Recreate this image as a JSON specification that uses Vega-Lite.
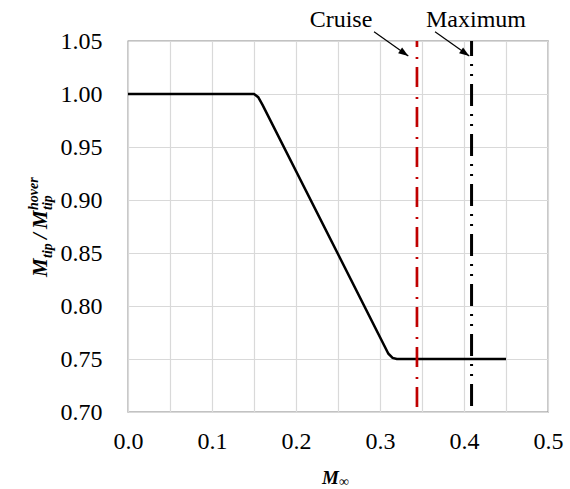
{
  "$schema": "https://vega.github.io/schema/vega-lite/v6.json",
  "width": 420,
  "height": 371,
  "autosize": {"type": "none"},
  "padding": {"left": 128, "top": 41, "right": 22, "bottom": 77},
  "background": "white",
  "config": {
    "font": "Liberation Serif",
    "view": {"stroke": "#868686", "strokeWidth": 1.3},
    "axis": {
      "domain": false,
      "ticks": false,
      "grid": true,
      "gridColor": "#d9d9d9",
      "gridWidth": 1.2,
      "labelFont": "Liberation Serif",
      "labelFontSize": 24,
      "labelColor": "black",
      "title": null
    },
    "text": {"font": "Liberation Serif"}
  },
  "datasets": {
    "curve": [
      {"M": 0.0, "ratio": 1.0},
      {"M": 0.15, "ratio": 1.0},
      {"M": 0.155, "ratio": 0.997},
      {"M": 0.16, "ratio": 0.99},
      {"M": 0.31, "ratio": 0.755},
      {"M": 0.315, "ratio": 0.751},
      {"M": 0.32, "ratio": 0.75},
      {"M": 0.45, "ratio": 0.75}
    ],
    "conditions": [
      {"name": "Cruise", "M": 0.344, "ratio": 0.7},
      {"name": "Cruise", "M": 0.344, "ratio": 1.05},
      {"name": "Maximum", "M": 0.409, "ratio": 0.7},
      {"name": "Maximum", "M": 0.409, "ratio": 1.05}
    ],
    "callouts": [
      {"name": "Cruise", "labelM": 0.2536, "labelR": 1.0632, "M": 0.2929, "ratio": 1.0588, "M2": 0.3337, "ratio2": 1.0358},
      {"name": "Maximum", "labelM": 0.4143, "labelR": 1.0632, "M": 0.3655, "ratio": 1.0588, "M2": 0.4063, "ratio2": 1.0358}
    ],
    "yTitle": [
      {"text": "M", "role": "main", "M": -0.0964, "ratio": 0.8274},
      {"text": "tip", "role": "sub", "M": -0.0905, "ratio": 0.8453},
      {"text": "/", "role": "main", "M": -0.0964, "ratio": 0.8632},
      {"text": "M", "role": "main", "M": -0.0964, "ratio": 0.8726},
      {"text": "tip", "role": "sub", "M": -0.0905, "ratio": 0.8906},
      {"text": "hover", "role": "sup", "M": -0.1071, "ratio": 0.8906}
    ],
    "xTitle": [
      {"text": "M", "role": "main", "M": 0.231, "ratio": 0.6321},
      {"text": "∞", "role": "sub", "M": 0.2512, "ratio": 0.6302}
    ]
  },
  "encoding": {
    "x": {
      "field": "M",
      "type": "quantitative",
      "scale": {"domain": [0, 0.5], "nice": false, "zero": false},
      "axis": {
        "values": [0, 0.05, 0.1, 0.15, 0.2, 0.25, 0.3, 0.35, 0.4, 0.45, 0.5],
        "labelExpr": "round(datum.value * 100) % 10 == 0 ? format(datum.value, '.1f') : ''",
        "labelPadding": 17,
        "labelFlush": false
      }
    },
    "y": {
      "field": "ratio",
      "type": "quantitative",
      "scale": {"domain": [0.7, 1.05], "nice": false, "zero": false},
      "axis": {
        "values": [0.7, 0.75, 0.8, 0.85, 0.9, 0.95, 1.0, 1.05],
        "format": ".2f",
        "labelPadding": 26,
        "labelFlush": false
      }
    }
  },
  "layer": [
    {
      "data": {"name": "curve"},
      "mark": {"type": "line", "color": "black", "strokeWidth": 2.5, "clip": true}
    },
    {
      "data": {"name": "conditions"},
      "transform": [{"filter": "datum.name == 'Cruise'"}],
      "mark": {"type": "line", "color": "#C00000", "strokeWidth": 2.7, "strokeDash": [20, 8, 2, 10], "strokeDashOffset": 35, "strokeCap": "butt"},
      "encoding": {"order": {"field": "ratio", "type": "quantitative"}}
    },
    {
      "data": {"name": "conditions"},
      "transform": [{"filter": "datum.name == 'Maximum'"}],
      "mark": {"type": "line", "color": "black", "strokeWidth": 3, "strokeDash": [22, 8, 2, 8, 2, 8], "strokeDashOffset": 44, "strokeCap": "butt"},
      "encoding": {"order": {"field": "ratio", "type": "quantitative"}}
    },
    {
      "data": {"name": "callouts"},
      "mark": {"type": "rule", "color": "black", "strokeWidth": 1.2},
      "encoding": {
        "x2": {"field": "M2"},
        "y2": {"field": "ratio2"}
      }
    },
    {
      "data": {"name": "callouts"},
      "mark": {"type": "point", "shape": "M0,0L-0.7,2L0.7,2Z", "filled": true, "color": "black", "opacity": 1, "size": 100, "angle": 125},
      "encoding": {
        "x": {"field": "M2", "type": "quantitative"},
        "y": {"field": "ratio2", "type": "quantitative"}
      }
    },
    {
      "data": {"name": "callouts"},
      "mark": {"type": "text", "fontSize": 24, "color": "black", "align": "center", "baseline": "alphabetic"},
      "encoding": {
        "x": {"field": "labelM", "type": "quantitative"},
        "y": {"field": "labelR", "type": "quantitative"},
        "text": {"field": "name"}
      }
    },
    {
      "data": {"name": "yTitle"},
      "transform": [{"filter": "datum.role == 'main'"}],
      "mark": {"type": "text", "fontSize": 21, "fontWeight": "bold", "fontStyle": "italic", "color": "black", "angle": 270, "align": "left", "baseline": "alphabetic"},
      "encoding": {"text": {"field": "text"}}
    },
    {
      "data": {"name": "yTitle"},
      "transform": [{"filter": "datum.role != 'main'"}],
      "mark": {"type": "text", "fontSize": 14, "fontWeight": "bold", "fontStyle": "italic", "color": "black", "angle": 270, "align": "left", "baseline": "alphabetic"},
      "encoding": {"text": {"field": "text"}}
    },
    {
      "data": {"name": "xTitle"},
      "transform": [{"filter": "datum.role == 'main'"}],
      "mark": {"type": "text", "fontSize": 19, "fontWeight": "bold", "fontStyle": "italic", "color": "black", "align": "left", "baseline": "alphabetic"},
      "encoding": {"text": {"field": "text"}}
    },
    {
      "data": {"name": "xTitle"},
      "transform": [{"filter": "datum.role == 'sub'"}],
      "mark": {"type": "text", "fontSize": 14, "color": "black", "align": "left", "baseline": "alphabetic"},
      "encoding": {"text": {"field": "text"}}
    }
  ]
}
